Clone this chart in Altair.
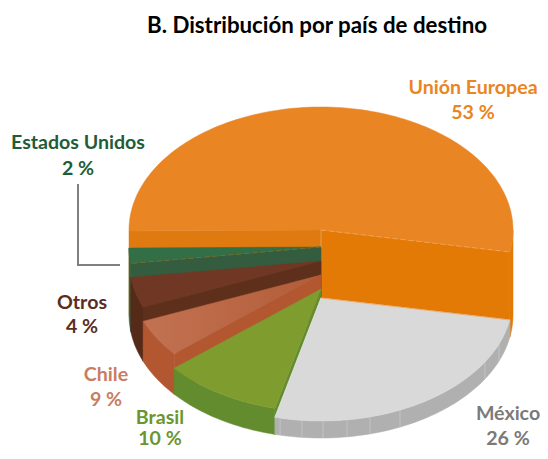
import math
import altair as alt
import pandas as pd

names = ["Unión Europea", "México", "Brasil", "Chile", "Otros", "Estados Unidos"]
labels = ["53 %", "26 %", "10 %", "9 %", "4 %", "2 %"]
# Drawn angular share of each slice
shares = [53, 26, 10, 5, 4, 2]
# Drop of each slice's top surface below the highest one
drops = [0, 68, 59, 45, 31, 17]
BASE = 85
top_colors = ["#E98523", "#D9D9D9", "#7F9C2F", "#BC6C4C", "#703824", "#326E46"]
wall_colors = ["#E37A05", "#B0B0B0", "#638C2F", "#B25730", "#552A18", "#2F6B45"]
face_colors = ["#E37A05", "#B0B0B0", "#638C2F", "#B25730", "#5E2F1B", "#345C3E"]
label_colors = ["#E98523", "#7A7A7A", "#6B962F", "#C87D62", "#5A2E1E", "#1F5C38"]
label_x = [473, 508, 160, 106, 82, 78]
name_y = [88, 414, 418, 375, 303, 143]
value_y = [113, 439, 439, 400, 327, 169]
rib_angles = [192.3, 185.7, 179.4, 172.2, 165.2, 155.7, 121.4, 112]

CX, CY, RX, RY = 321, 230, 192, 123
START = -90.5
W, H = 532, 443

x_scale = alt.Scale(domain=[8, 8 + W], nice=False, zero=False)
y_scale = alt.Scale(domain=[8 + H, 8], nice=False, zero=False)


def rim(theta, off):
    t = math.radians(theta)
    return CX + RX * math.sin(t), CY - RY * math.cos(t) + off


def arc(t1, t2, off):
    n = max(2, int(abs(t2 - t1) / 1.5) + 2)
    return [rim(t1 + (t2 - t1) * i / (n - 1), off) for i in range(n)]


def poly(points, fill, stroke=None):
    pts = list(points) + [points[0]]
    df = pd.DataFrame({"x": [p[0] for p in pts], "y": [p[1] for p in pts], "i": range(len(pts))})
    return alt.Chart(df).mark_line(
        fill=fill, stroke=stroke if stroke else (fill if isinstance(fill, str) else "#B8623F"),
        strokeWidth=0.5, interpolate="linear",
    ).encode(
        x=alt.X("x:Q", scale=x_scale, axis=None),
        y=alt.Y("y:Q", scale=y_scale, axis=None),
        order="i:Q",
    )


def seg(points, color, width=1.0, dash=None):
    df = pd.DataFrame({"x": [p[0] for p in points], "y": [p[1] for p in points], "i": range(len(points))})
    kw = {"strokeDash": dash} if dash else {}
    return alt.Chart(df).mark_line(color=color, strokeWidth=width, **kw).encode(
        x=alt.X("x:Q", scale=x_scale, axis=None),
        y=alt.Y("y:Q", scale=y_scale, axis=None),
        order="i:Q",
    )


def radial(theta, off, color):
    return poly([(CX, CY + off), rim(theta, off), rim(theta, BASE), (CX, CY + BASE)], color)


def outer(t1, t2, off, color):
    a, b = max(t1, 90), min(t2, 270)
    if b <= a:
        return None
    return poly(arc(a, b, off) + arc(b, a, BASE), color)


bounds = [START]
for s in shares:
    bounds.append(bounds[-1] + s * 3.6)
spans = [(bounds[i], bounds[i + 1]) for i in range(len(shares))]

layers = []
# Highest slice first
t1, t2 = spans[0]
layers += [outer(t1, t2, 0, wall_colors[0]), radial(t1, 0, "#DF7A10"), radial(t2, 0, face_colors[0])]
layers.append(poly([(CX, CY)] + arc(t1, t2, 0), top_colors[0]))
layers.append(seg([(CX, CY), rim(t2, 0)], "#F2A860", 0.8, [5, 3]))
layers.append(seg([(CX, CY), (CX, CY + 18)], "#F2A860", 0.8))

# Then going round from the back towards the front
for k in [5, 4, 3, 2, 1]:
    t1, t2 = spans[k]
    o = drops[k]
    w = outer(t1, t2, o, wall_colors[k])
    if w is not None:
        layers.append(w)
    if k == 1:
        for a in rib_angles:
            layers.append(seg([rim(a, o), rim(a, BASE)], "#C4C4C4", 1.0))
    layers.append(radial(t1, o, face_colors[k]))
    if k == 3:
        grad = alt.Gradient(
            gradient="linear", x1=0, x2=1, y1=0, y2=0,
            stops=[alt.GradientStop(color="#C27252", offset=0), alt.GradientStop(color="#B35C38", offset=1)],
        )
        layers.append(poly([(CX, CY + o)] + arc(t1, t2, o), grad))
    else:
        layers.append(poly([(CX, CY + o)] + arc(t1, t2, o), top_colors[k]))
    if k == 5:
        layers.append(seg([(CX, CY + o), rim(t1, o)], "#8A6A2A", 0.8, [5, 3]))
    if k == 1:
        layers.append(seg([(CX, CY + o), rim(t2 + 0, o)], "#EFEFEF", 0.6))
        layers.append(seg([(CX, CY + o), rim(t1, o)], "#F2A860", 0.8))

# Leader line for the smallest slice
layers.append(seg([(78, 184), (78, 265), (120, 265)], "#7F7F7F", 2))


def text(s, x, y, color, size):
    df = pd.DataFrame({"x": [x], "y": [y], "t": [s]})
    return alt.Chart(df).mark_text(
        font="Lato", fontWeight="bold", fontSize=size, color=color, align="center", baseline="middle"
    ).encode(
        x=alt.X("x:Q", scale=x_scale, axis=None),
        y=alt.Y("y:Q", scale=y_scale, axis=None),
        text="t:N",
    )


layers.append(text("B. Distribución por país de destino", 317, 26, "#000000", 22.3))
for i in range(len(names)):
    layers.append(text(names[i], label_x[i], name_y[i], label_colors[i], 19.6))
    layers.append(text(labels[i], label_x[i], value_y[i], label_colors[i], 19.6))

chart = alt.layer(*layers).properties(
    width=W, height=H, padding=0, autosize=alt.AutoSizeParams(type="none")
).configure_view(stroke=None)

chart.save("out.html", embed_options={"renderer": "svg", "actions": False})
